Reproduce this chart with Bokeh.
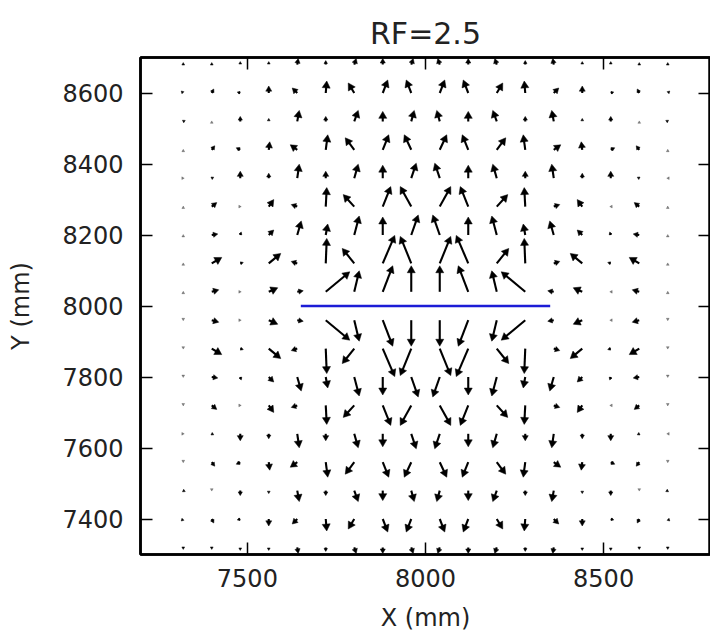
import numpy as np
from bokeh.plotting import figure
from bokeh.models import ColumnDataSource, LinearAxis, Range1d, FixedTicker
from bokeh.embed import file_html
from bokeh.resources import INLINE

# ---------------- data ----------------
x_cols = [7320, 7400, 7480, 7560, 7640, 7720, 7800, 7880, 7960,
          8040, 8120, 8200, 8280, 8360, 8440, 8520, 8600, 8680]
y_rows = [8680, 8600, 8520, 8440, 8360, 8280, 8200, 8120, 8040,
          7960, 7880, 7800, 7720, 7640, 7560, 7480, 7400, 7320]

# horizontal component of each arrow (one list per row, top to bottom)
u_rows = [
    [0, 0, 0, 0, 1, 0, 2, 0, 2, -2, 0, -2, 0, -1, 0, 0, 0, 0],
    [-2, 2, -3, 0, -5, 1, -6, 5, -5, 5, -5, 6, -1, 5, 0, 3, -2, 2],
    [2, 0, 0, 0, 2, 0, 4, 0, 3, -3, 0, -4, 0, -2, 0, 0, 0, -2],
    [0, 3, -4, 1, -7, 2, -9, 6, -7, 7, -6, 9, -2, 7, -1, 4, -3, 0],
    [1, 2, 0, 0, 2, 0, 4, 0, 5, -5, 0, -4, 0, -2, 0, 0, -2, -1],
    [0, 5, 1, 5, -6, 1, -11, 8, -11, 11, -8, 11, -1, 6, -5, -1, -5, 0],
    [0, 6, 1, 5, 4, 2, 5, 0, 7, -7, 0, -5, -2, -4, -5, -1, -6, 0],
    [0, 10, 3, 12, -6, 1, -12, 12, -11, 11, -12, 12, -1, 6, -12, -3, -10, 0],
    [0, 7, 1, 9, 6, 24, 5, 10, 0, 0, -10, -5, -24, -6, -9, -1, -7, 0],
    [0, 7, 1, 9, 6, 24, 5, 10, 0, 0, -10, -5, -24, -6, -9, -1, -7, 0],
    [0, 10, 3, 12, -6, 1, -12, 12, -11, 11, -12, 12, -1, 6, -12, -3, -10, 0],
    [0, 6, 1, 5, 4, 2, 5, 0, 7, -7, 0, -5, -2, -4, -5, -1, -6, 0],
    [0, 5, 1, 5, -6, 1, -11, 8, -11, 11, -8, 11, -1, 6, -5, -1, -5, 0],
    [1, 2, 0, 0, 2, 0, 4, 0, 5, -5, 0, -4, 0, -2, 0, 0, -2, -1],
    [0, 3, -4, 1, -7, 2, -9, 6, -7, 7, -6, 9, -2, 7, -1, 4, -3, 0],
    [2, 0, 0, 0, 2, 0, 4, 0, 3, -3, 0, -4, 0, -2, 0, 0, 0, -2],
    [-2, 2, -3, 0, -5, 1, -6, 5, -5, 5, -5, 6, -1, 5, 0, 3, -2, 2],
    [0, 0, 0, 0, 1, 0, 2, 0, 2, -2, 0, -2, 0, -1, 0, 0, 0, 0],
]
# vertical component of each arrow
v_rows = [
    [2, 2, 3, 3, 6, 4, 6, 6, 6, 6, 6, 6, 4, 6, 3, 3, 2, 2],
    [2, 4, 1, 7, 5, 12, 10, 13, 13, 13, 13, 10, 12, 5, 7, 1, 4, 2],
    [1, 0.5, 5, 3, 11, 5, 11, 10, 11, 11, 10, 11, 5, 11, 3, 5, 0.5, 1],
    [0.5, 4, 2, 8, 5, 15, 12, 15, 15, 15, 15, 12, 15, 5, 8, 2, 4, 0.5],
    [0, 1, 7, 5, 14, 7, 14, 13, 15, 15, 13, 14, 7, 14, 5, 7, 1, 0],
    [0.5, 4, 0, 7, 2, 19, 12, 20, 20, 20, 20, 12, 19, 2, 7, 0, 4, 0.5],
    [0.5, 1, 3, 5, 14, 11, 19, 18, 20, 20, 18, 19, 11, 14, 5, 3, 1, 0.5],
    [0.5, 6, 1, 10, 2, 25, 15, 28, 27, 27, 28, 15, 25, 2, 10, 1, 6, 0.5],
    [0.5, 2, 0, 4, 1, 20, 21, 26, 26, 26, 26, 21, 20, 1, 4, 0, 2, 0.5],
    [-0.5, -2, 0, -4, -1, -20, -21, -26, -26, -26, -26, -21, -20, -1, -4, 0, -2, -0.5],
    [-0.5, -6, -1, -10, -2, -25, -15, -28, -27, -27, -28, -15, -25, -2, -10, -1, -6, -0.5],
    [-0.5, -1, -3, -5, -14, -11, -19, -18, -20, -20, -18, -19, -11, -14, -5, -3, -1, -0.5],
    [-0.5, -4, 0, -7, -2, -19, -12, -20, -20, -20, -20, -12, -19, -2, -7, 0, -4, -0.5],
    [0, -1, -7, -5, -14, -7, -14, -13, -15, -15, -13, -14, -7, -14, -5, -7, -1, 0],
    [-0.5, -4, -2, -8, -5, -15, -12, -15, -15, -15, -15, -12, -15, -5, -8, -2, -4, -0.5],
    [-1, -0.5, -5, -3, -11, -5, -11, -10, -11, -11, -10, -11, -5, -11, -3, -5, -0.5, -1],
    [-2, -4, -1, -7, -5, -12, -10, -13, -13, -13, -13, -10, -12, -5, -7, -1, -4, -2],
    [-2, -2, -3, -3, -6, -4, -6, -6, -6, -6, -6, -6, -4, -6, -3, -3, -2, -2],
]

crack_x = [7650, 8350]
crack_y = [8000, 8000]

x_ticks = [7500, 8000, 8500]
y_ticks = [7400, 7600, 7800, 8000, 8200, 8400, 8600]
x_limits = [7200, 8800]
y_limits = [7300, 8700]

# ---------------- figure ----------------
FW, FH = 570, 497
FONT = "DejaVu Sans"

p = figure(frame_width=FW, frame_height=FH,
           x_range=Range1d(*x_limits), y_range=Range1d(*y_limits),
           output_backend="svg", toolbar_location=None,
           min_border_left=140, min_border_top=57, min_border_bottom=82,
           min_border_right=0, title="RF=2.5")
p.background_fill_color = "white"
p.border_fill_color = "white"
p.grid.visible = False
p.outline_line_color = "black"
p.outline_line_width = 2.5

p.title.text_font = FONT
p.title.text_font_size = "30px"
p.title.text_font_style = "normal"
p.title.text_color = "#222222"
p.title.align = "center"
p.title.standoff = 14

def style_axis(ax, ticks, show_labels):
    ax.ticker = FixedTicker(ticks=ticks)
    ax.major_tick_in = 12
    ax.major_tick_out = 0
    ax.minor_tick_in = 0
    ax.minor_tick_out = 0
    ax.major_tick_line_width = 1.5
    ax.major_tick_line_color = "black"
    ax.axis_line_width = 2.5
    ax.axis_line_color = "black"
    if show_labels:
        ax.major_label_text_font = FONT
        ax.major_label_text_font_size = "24px"
        ax.major_label_text_color = "#222222"
        ax.axis_label_text_font = FONT
        ax.axis_label_text_font_size = "24px"
        ax.axis_label_text_font_style = "normal"
        ax.axis_label_text_color = "#222222"
    else:
        ax.major_label_text_font_size = "1px"
        ax.major_label_text_alpha = 0
        ax.major_label_standoff = 0

xa = p.xaxis[0]
ya = p.yaxis[0]
style_axis(xa, x_ticks, True)
style_axis(ya, y_ticks, True)
xa.axis_label = "X (mm)"
ya.axis_label = "Y (mm)"
xa.major_label_standoff = 14
xa.axis_label_standoff = 14
ya.major_label_standoff = 17
ya.axis_label_standoff = 24
ya.major_label_orientation = "horizontal"

top_ax = LinearAxis()
right_ax = LinearAxis()
style_axis(top_ax, x_ticks, False)
style_axis(right_ax, y_ticks, False)
p.add_layout(top_ax, "above")
p.add_layout(right_ax, "right")

# ---------------- quiver ----------------
sx = FW / (x_limits[1] - x_limits[0])   # px per data unit
sy = FH / (y_limits[1] - y_limits[0])

X, Y = np.meshgrid(np.array(x_cols, float), np.array(y_rows, float))
U = np.array(u_rows, float)
V = np.array(v_rows, float)
X, Y, U, V = X.ravel(), Y.ravel(), U.ravel(), V.ravel()
L = np.hypot(U, V)
safeL = np.where(L > 0, L, 1.0)
dx = np.where(L > 0, U / safeL, 0.0)
dy = np.where(L > 0, V / safeL, 1.0)
hsize = np.clip(0.85 * L, 2.8, 8.0)
tipx = X + U / sx
tipy = Y + V / sy
cx = tipx - 0.577 * hsize * dx / sx
cy = tipy - 0.577 * hsize * dy / sy
ang = np.arctan2(dy, dx) - np.pi / 2
alpha = np.where(L < 1.5, 0.45, 1.0)

long_ = L > 3
shaft = ColumnDataSource(dict(x0=X[long_], y0=Y[long_], x1=cx[long_], y1=cy[long_]))
p.segment(x0="x0", y0="y0", x1="x1", y1="y1", source=shaft,
          line_color="black", line_width=2.1)

heads = ColumnDataSource(dict(x=cx, y=cy, s=hsize, a=ang, al=alpha))
p.scatter(x="x", y="y", size="s", angle="a", marker="triangle", source=heads,
          fill_color="black", line_color="black", line_width=0.5,
          fill_alpha="al", line_alpha="al")

p.line(crack_x, crack_y, line_color="#1c1cd6", line_width=2.4)

open("out.html", "w").write(file_html(p, INLINE))
